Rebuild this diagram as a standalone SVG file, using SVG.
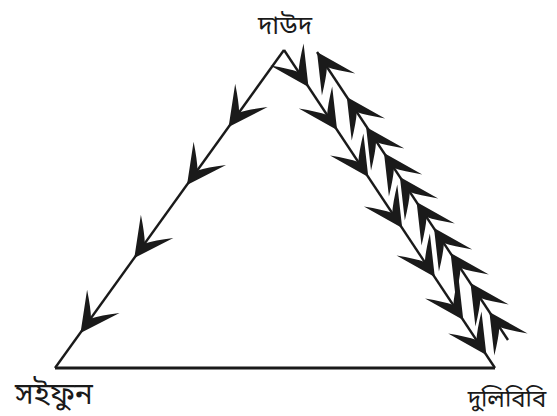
<svg xmlns="http://www.w3.org/2000/svg" xmlns:xlink="http://www.w3.org/1999/xlink" width="557" height="416" viewBox="0 0 557 416">
<style>
.edge{stroke:#1a1a1a;stroke-width:2.4;fill:none;stroke-linecap:butt}
.base{stroke:#1a1a1a;stroke-width:3.2;fill:none}
.lbl{font-family:"Noto Sans Bengali","Noto Sans","Noto Serif Bengali","Lohit Bengali",sans-serif;font-size:26px;fill:#1a1a1a;text-anchor:middle}
.ah{fill:#1a1a1a}
</style>
<defs>
<path id="head" class="ah" d="M0,0 L-39,-20 Q-26,-6 -18,0 Q-26,6 -39,20 Z"/>
</defs>
<rect width="557" height="416" fill="#ffffff"/>
<g id="connectors">
<line class="edge" x1="284" y1="50" x2="55" y2="368"/>
<line class="edge" x1="284" y1="50" x2="495" y2="368"/>
<line class="edge" x1="317" y1="52" x2="508" y2="340"/>
<line class="base" x1="55" y1="368" x2="495" y2="368"/>
<g id="arrows-left">
<use xlink:href="#head" transform="translate(228.6,127) rotate(125.8)"/>
<use xlink:href="#head" transform="translate(187,185) rotate(125.8)"/>
<use xlink:href="#head" transform="translate(134.3,258) rotate(125.8)"/>
<use xlink:href="#head" transform="translate(80.5,333) rotate(125.8)"/>
</g>
<g id="arrows-down-right">
<use xlink:href="#head" transform="translate(308.5,87) rotate(56.4)"/>
<use xlink:href="#head" transform="translate(337.1,130) rotate(56.4)"/>
<use xlink:href="#head" transform="translate(368.3,177) rotate(56.4)"/>
<use xlink:href="#head" transform="translate(402.2,228) rotate(56.4)"/>
<use xlink:href="#head" transform="translate(434.8,277) rotate(56.4)"/>
<use xlink:href="#head" transform="translate(463.3,320) rotate(56.4)"/>
<use xlink:href="#head" transform="translate(486.4,355) rotate(56.4)"/>
</g>
<g id="arrows-up-left">
<use xlink:href="#head" transform="translate(317,52) rotate(-123.6)"/>
<use xlink:href="#head" transform="translate(346.8,97) rotate(-123.6)"/>
<use xlink:href="#head" transform="translate(366.1,127) rotate(-123.6)"/>
<use xlink:href="#head" transform="translate(384,153) rotate(-123.6)"/>
<use xlink:href="#head" transform="translate(399.9,177) rotate(-123.6)"/>
<use xlink:href="#head" transform="translate(416.6,202) rotate(-123.6)"/>
<use xlink:href="#head" transform="translate(434,228) rotate(-123.6)"/>
<use xlink:href="#head" transform="translate(450.6,253) rotate(-123.6)"/>
<use xlink:href="#head" transform="translate(470.5,283) rotate(-123.6)"/>
<use xlink:href="#head" transform="translate(489.4,312) rotate(-123.6)"/>
</g>
</g>
<g id="node-daud"><text class="lbl" x="285" y="34">দাউদ</text></g>
<g id="node-saifun"><text class="lbl" x="54" y="404" style="font-size:30px">সইফুন</text></g>
<g id="node-dulibibi"><text class="lbl" x="507" y="407" style="font-size:24px">দুলিবিবি</text></g>
</svg>
